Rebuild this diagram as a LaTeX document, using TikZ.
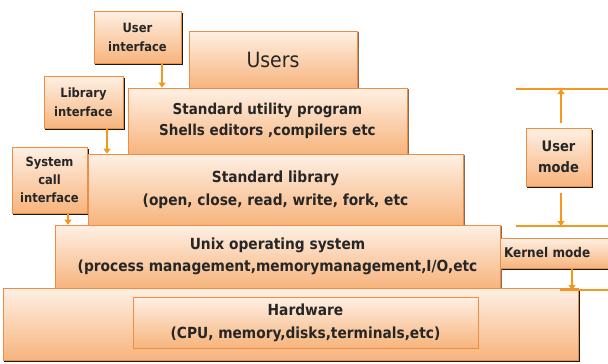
\documentclass[tikz,border=0pt]{standalone}
\usepackage{fontspec}
\setmainfont{DejaVu Sans Condensed}
\usetikzlibrary{arrows.meta}
\pgfdeclarelayer{bg}
\pgfsetlayers{bg,main}
\definecolor{edge}{HTML}{EE8E45}
\definecolor{ftop}{HTML}{FEF0E4}
\definecolor{fbot}{HTML}{F7B47D}
\definecolor{arr}{HTML}{F7961E}
\definecolor{txt}{HTML}{262626}
\definecolor{shd}{HTML}{5A2A10}
\tikzset{
  layer/.style={draw=edge, line width=0.8pt, top color=ftop, bottom color=fbot,
    inner sep=0pt, align=center, text=txt, font=\bfseries\fontsize{15.3}{23}\selectfont},
  small/.style={layer, font=\bfseries\fontsize{12.8}{19}\selectfont},
  softshadow/.style={fill=shd!70},
  hardshadow/.style={fill=black!90},
  conn/.style={draw=arr, line width=2.4pt, -{Triangle[length=5pt,width=7pt]}},
  hline/.style={draw=arr, line width=2.4pt}
}
\begin{document}
\begin{tikzpicture}[x=1pt,y=-1pt]
\useasboundingbox (0,0) rectangle (608,364);
% layers
\node[layer, minimum width=575pt, minimum height=72pt] (hw) at (290.5,324) {};
\node[layer, minimum width=345pt, minimum height=51pt] (hwin) at (305.5,322.5) {Hardware\\(CPU, memory,disks,terminals,etc)};
\node[layer, minimum width=445pt, minimum height=63pt, font=\bfseries\fontsize{15.3}{21.5}\selectfont] (unix) at (277.5,256.5) {Unix operating system\\(process management,memorymanagement,I/O,etc};
\node[layer, minimum width=375pt, minimum height=71pt] (lib) at (275.5,189.5) {Standard library\\(open, close, read, write, fork, etc};
\node[layer, minimum width=279pt, minimum height=66pt, font=\bfseries\fontsize{15}{21}\selectfont] (util) at (267.5,121) {Standard utility program\\Shells editors ,compilers etc};
\node[layer, minimum width=168pt, minimum height=57pt, font=\fontsize{21}{26}\selectfont] (users) at (273,59.5) {Users};
% interface boxes
\node[small, minimum width=87pt, minimum height=52pt] (uif) at (137.5,37) {User\\interface};
\node[small, minimum width=79pt, minimum height=52pt] (lif) at (83.5,102) {Library\\interface};
\node[small, minimum width=75pt, minimum height=66pt, font=\bfseries\fontsize{12.8}{18}\selectfont] (sif) at (49.5,180) {System\\call\\interface};
% mode boxes
\node[small, minimum width=65pt, minimum height=58pt, font=\bfseries\fontsize{14.5}{21}\selectfont] (umode) at (558.5,157) {User\\mode};
\node[small, minimum width=108pt, minimum height=30pt, align=left, text width=100pt, font=\bfseries\fontsize{13.4}{16}\selectfont] (kmode) at (554,253) {Kernel mode};
% shadows
\begin{pgfonlayer}{bg}
\foreach \n in {hw,uif,lif,sif,umode,kmode}
  \fill[hardshadow] ([xshift=1.5pt,yshift=-2pt]\n.north west) rectangle ([xshift=1.5pt,yshift=-2pt]\n.south east);
\foreach \n in {unix,lib,util,users}
  \fill[softshadow] ([xshift=1.5pt,yshift=-1pt]\n.north west) rectangle ([xshift=1.5pt,yshift=-1pt]\n.south east);
\end{pgfonlayer}
% right lines
\coordinate (t1) at (516,89); \coordinate (t2) at (608,89);
\coordinate (m1) at (516,226); \coordinate (m2) at (608,226);
\coordinate (b1) at (560,290); \coordinate (b2) at (608,290);
\draw[hline] (t1) -- (t2);
\draw[hline] (m1) -- (m2);
\draw[hline] (b1) -- (b2);
% connectors
\draw[conn] (162,0 |- uif.south) -- (162,0 |- util.north);
\draw[conn] (107,0 |- lif.south) -- (107,0 |- lib.north);
\draw[conn] (68,0 |- sif.south) -- (68,0 |- unix.north);
\draw[conn] ([yshift=5pt]umode.north -| 561,0) -- (561,0 |- t1);
\draw[conn] ([yshift=-7pt]umode.south -| 561,0) -- (561,0 |- m1);
\draw[conn] (572,0 |- kmode.south) -- (572,0 |- b1);
\end{tikzpicture}
\end{document}
